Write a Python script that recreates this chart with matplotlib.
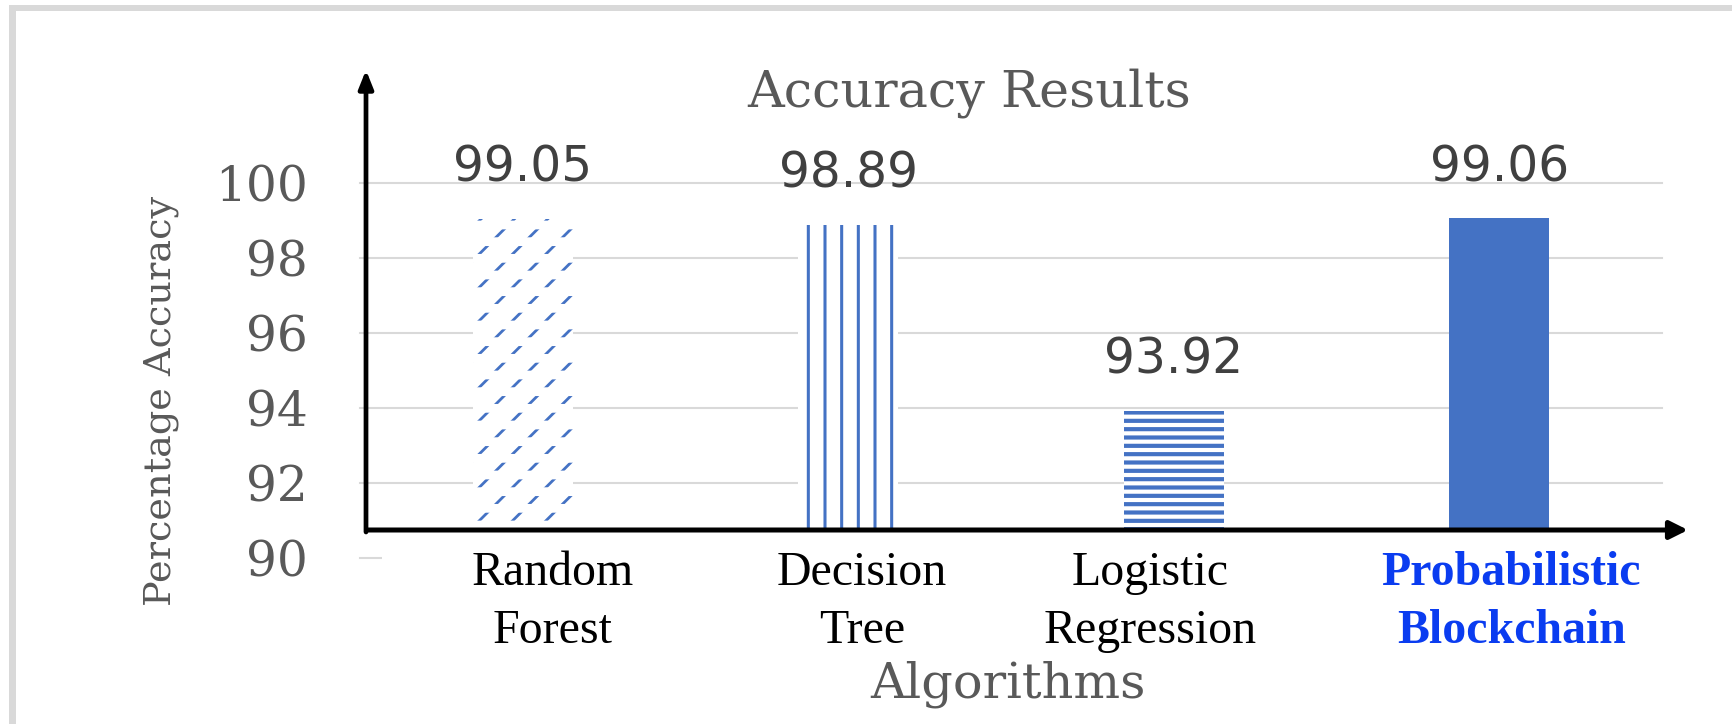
import matplotlib
matplotlib.use('Agg')
import matplotlib.pyplot as plt
from matplotlib.patches import Rectangle

# data
algorithms = ['Random\nForest', 'Decision\nTree', 'Logistic\nRegression', 'Probabilistic\nBlockchain']
accuracy = [99.05, 98.89, 93.92, 99.06]
y_ticks = [90, 92, 94, 96, 98, 100]

# style
W, H = 1732, 724
BLUE = '#4472C4'
GREY_TXT = '#595959'
GRID = '#d9d9d9'
hatches = ['/', '|', '--', None]
hatch_lw = [2.0, 2.2, 3.0, 1.0]
label_dx = [30, 14, -24, 12]          # px offset of the overlaid category labels
label_color = ['black', 'black', 'black', '#0a3cf0']
label_weight = ['normal', 'normal', 'normal', 'bold']

plt.rcParams['font.family'] = 'DejaVu Serif'
plt.rcParams['hatch.linewidth'] = 2.0


def fx(px):
    return px / W


def fy(py):
    # pixel row from top -> figure fraction
    return 1 - py / H


def set_hlw(patch, lw):
    try:
        patch.set_hatch_linewidth(lw)
    except AttributeError:
        pass


fig = plt.figure(figsize=(W / 100, H / 100), dpi=100)
ax = fig.add_axes([fx(360), fy(558), (1662 - 360) / W, (558 - 183) / H])

x = list(range(len(accuracy)))
bars = ax.bar(x, accuracy, width=0.307, color=BLUE, edgecolor=BLUE, linewidth=0, zorder=2)
for bar, h, lw in zip(bars, hatches, hatch_lw):
    if h:
        bar.set_facecolor('white')
        bar.set_hatch(h)
        set_hlw(bar, lw)

# cut the diagonal hatch of the first bar into short dashes
cut = ax.bar(x[0], accuracy[0], width=0.307, facecolor='none', edgecolor='white',
             linewidth=0, hatch='-', zorder=2.5)
set_hlw(cut[0], 6.3)

ax.set_xlim(-0.5, len(accuracy) - 0.5)
ax.set_ylim(90, 100)
ax.set_yticks(y_ticks)
ax.set_yticklabels([str(t) for t in y_ticks])
ax.set_xticks([])
ax.tick_params(axis='y', length=0, pad=37.4, labelsize=35, labelcolor=GREY_TXT)
for sp in ax.spines.values():
    sp.set_visible(False)
ax.yaxis.grid(True, color=GRID, lw=1.5)
ax.set_axisbelow(True)
for gl in ax.yaxis.get_gridlines():
    gl.set_clip_on(False)

# white band hiding the bar feet and the 90 gridline below the drawn axis
ax.add_artist(Rectangle((fx(382), fy(562)), fx(1700) - fx(382), (562 - 532) / H,
                        transform=fig.transFigure, facecolor='white', edgecolor='none',
                        zorder=3, clip_on=False))

# value labels
for i, v in enumerate(accuracy):
    ax.annotate(f'{v:.2f}', xy=(i, v), xytext=(0, 37), textcoords='offset pixels',
                ha='center', va='baseline', fontsize=35, family='DejaVu Sans',
                color='#404040', annotation_clip=False, zorder=4)

# category labels (baseline of the last line)
for i, name in enumerate(algorithms):
    ax.annotate(name, xy=(i, 0), xycoords=('data', 'axes fraction'),
                xytext=(label_dx[i], -85), textcoords='offset pixels',
                ha='center', va='baseline', multialignment='center',
                fontsize=34.5, family='Liberation Serif', color=label_color[i],
                fontweight=label_weight[i], linespacing=1.42,
                annotation_clip=False, zorder=4)

# black axis arrows
ax.annotate('', xy=(1688, H - 530), xycoords='figure pixels',
            xytext=(368, H - 530), textcoords='figure pixels',
            arrowprops=dict(arrowstyle='-|>,head_length=1,head_width=0.5', mutation_scale=10.8,
                            lw=3.6, color='black', shrinkA=0, shrinkB=0),
            annotation_clip=False, zorder=5)
ax.annotate('', xy=(366, H - 70), xycoords='figure pixels',
            xytext=(366, H - 532), textcoords='figure pixels',
            arrowprops=dict(arrowstyle='-|>,head_length=1,head_width=0.4', mutation_scale=10.8,
                            lw=3.4, color='black', shrinkA=0, shrinkB=0),
            annotation_clip=False, zorder=5)

# titles
fig.text(fx(969.5), fy(107), 'Accuracy Results', ha='center', va='baseline',
         fontsize=36.5, color=GREY_TXT)
fig.text(fx(1008), fy(697), 'Algorithms', ha='center', va='baseline',
         fontsize=35.5, color=GREY_TXT)
fig.text(fx(161), fy(401), 'Percentage Accuracy', rotation=90, ha='center', va='center',
         fontsize=27.5, color=GREY_TXT)

# grey frame of the screenshot
fig.add_artist(Rectangle((fx(9), fy(11)), 1 - fx(9), 6 / H, transform=fig.transFigure,
                         facecolor=GRID, edgecolor='none'))
fig.add_artist(Rectangle((fx(9), 0), 7 / W, fy(5), transform=fig.transFigure,
                         facecolor=GRID, edgecolor='none'))

fig.savefig('out.png', dpi=100, facecolor='white')
